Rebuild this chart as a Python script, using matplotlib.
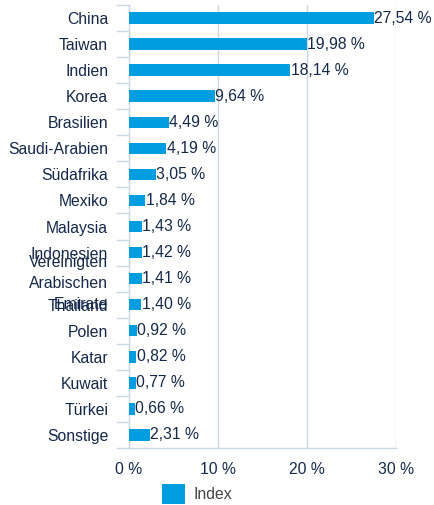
import numpy as np
from matplotlib import pyplot as plt
from matplotlib.patches import Patch

# Länder und Gewichtung im Index (in %)
countries = ['China', 'Taiwan', 'Indien', 'Korea', 'Brasilien', 'Saudi-Arabien',
             'Südafrika', 'Mexiko', 'Malaysia', 'Indonesien',
             'Vereinigten\nArabischen\nEmirate', 'Thailand', 'Polen', 'Katar',
             'Kuwait', 'Türkei', 'Sonstige']
weights = [27.54, 19.98, 18.14, 9.64, 4.49, 4.19, 3.05, 1.84, 1.43, 1.42,
           1.41, 1.40, 0.92, 0.82, 0.77, 0.66, 2.31]
xticks = [0, 10, 20, 30]
xticklabels = ['0 %', '10 %', '20 %', '30 %']

blue = '#009ee0'
navy = '#14284b'
grid = '#cbd7e6'
fs = 11.3

plt.rcParams['font.family'] = ['Liberation Sans', 'DejaVu Sans']

fig = plt.figure(figsize=(4.34, 5.05), dpi=100)
ax = fig.add_axes([129 / 434, 1 - 448 / 505, (396 - 129) / 434, 443 / 505])

y = np.arange(len(countries))
ax.barh(y, weights, height=0.44, color=blue, zorder=3)
for yi, v in zip(y, weights):
    ax.text(v + 0.03, yi, f'{v:.2f} %'.replace('.', ','), va='center', ha='left',
            fontsize=fs, color=navy, zorder=4)

ax.set_xlim(0, 30)
ax.set_ylim(len(countries) - 0.5, -0.5)
ax.set_xticks(xticks)
ax.set_xticklabels(xticklabels, fontsize=fs, color=navy)
ax.tick_params(axis='x', length=0, pad=10)
ax.set_yticks(y)
ax.set_yticklabels(countries, fontsize=fs, color=navy, linespacing=1.5,
                   multialignment='right')
ax.tick_params(axis='y', which='major', length=0, pad=15)
ax.set_yticks(np.arange(-0.5, len(countries)), minor=True)
ax.tick_params(axis='y', which='minor', length=9.5, width=1, color=grid)

ax.xaxis.grid(True, color=grid, linewidth=1, zorder=0)
for s in ['top', 'right']:
    ax.spines[s].set_visible(False)
for s in ['left', 'bottom']:
    ax.spines[s].set_color(grid)
    ax.spines[s].set_linewidth(1)

handle = Patch(facecolor=blue, edgecolor='none', label='Index')
fig.legend(handles=[handle], loc='center left', bbox_to_anchor=(148 / 434, 1 - 494 / 505),
           frameon=False, fontsize=fs, handlelength=1.47, handleheight=1.55,
           handletextpad=0.5, labelcolor='#444444')

fig.savefig('out.png', dpi=100)
